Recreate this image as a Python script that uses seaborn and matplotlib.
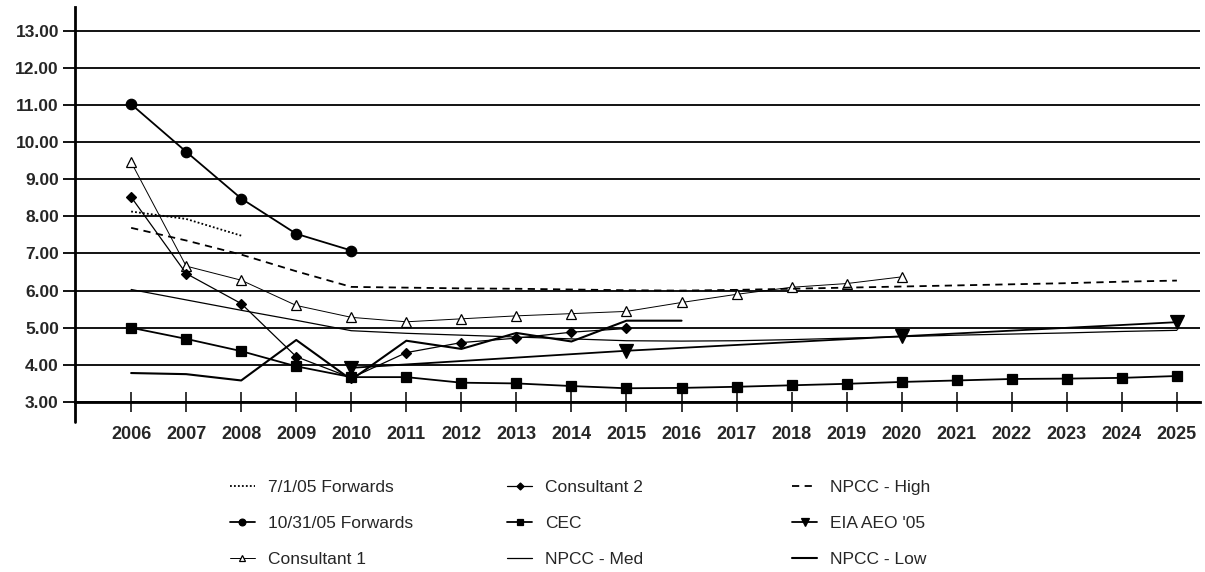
import numpy as np
import pandas as pd
import matplotlib
matplotlib.use("Agg")
import matplotlib.pyplot as plt
import seaborn as sns

# ---------------- data ----------------
years = list(range(2006, 2026))

fwd_0701_years = [2006, 2007, 2008]
fwd_0701 = [8.13, 7.93, 7.48]

fwd_1031_years = [2006, 2007, 2008, 2009, 2010]
fwd_1031 = [11.02, 9.74, 8.48, 7.53, 7.08]

consultant1_years = list(range(2006, 2021))
consultant1 = [9.46, 6.66, 6.28, 5.60, 5.28, 5.16, 5.24, 5.32, 5.38, 5.44,
               5.68, 5.90, 6.09, 6.19, 6.37]

consultant2_years = list(range(2006, 2016))
consultant2 = [8.52, 6.46, 5.65, 4.22, 3.65, 4.33, 4.60, 4.72, 4.88, 4.98]

cec = [5.00, 4.70, 4.37, 3.96, 3.67, 3.67, 3.52, 3.50, 3.43, 3.37,
       3.38, 3.41, 3.45, 3.49, 3.54, 3.58, 3.62, 3.63, 3.65, 3.70]

npcc_high = [7.69, 7.35, 6.97, 6.52, 6.10, 6.08, 6.06, 6.05, 6.03, 6.01,
             6.00, 6.02, 6.05, 6.08, 6.11, 6.14, 6.17, 6.20, 6.24, 6.27]

eia_years = [2010, 2015, 2020, 2025]
eia = [3.92, 4.38, 4.77, 5.15]

npcc_med = [6.03, 5.75, 5.47, 5.20, 4.92, 4.85, 4.80, 4.75, 4.70, 4.65,
            4.64, 4.65, 4.68, 4.72, 4.76, 4.80, 4.83, 4.86, 4.90, 4.93]

npcc_low_years = list(range(2006, 2017))
npcc_low = [3.78, 3.75, 3.58, 4.67, 3.60, 4.65, 4.43, 4.86, 4.63, 5.19, 5.19]

y_ticks = [3, 4, 5, 6, 7, 8, 9, 10, 11, 12, 13]

# ---------------- style ----------------
sns.set_style("white")
plt.rcParams['font.family'] = ['Liberation Sans', 'DejaVu Sans']

W, H = 1205, 572
fig = plt.figure(figsize=(W / 100, H / 100), dpi=100)
ax_left, ax_right, ax_top, ax_bottom = 75, 1200, 7.3, 402
ax = fig.add_axes([ax_left / W, 1 - ax_bottom / H,
                   (ax_right - ax_left) / W, (ax_bottom - ax_top) / H])

K = 'black'
series = [
    dict(x=fwd_0701_years, y=fwd_0701, label='7/1/05 Forwards', ls=(0, (1.0, 1.2)), lw=1.3, marker=None),
    dict(x=fwd_1031_years, y=fwd_1031, label='10/31/05 Forwards', ls='-', lw=1.3, marker='o', ms=7.5, mfc=K),
    dict(x=consultant1_years, y=consultant1, label='Consultant 1', ls='-', lw=0.7, marker='^', ms=7, mfc='white'),
    dict(x=consultant2_years, y=consultant2, label='Consultant 2', ls='-', lw=0.9, marker='D', ms=5.5, mfc=K),
    dict(x=years, y=cec, label='CEC', ls='-', lw=1.3, marker='s', ms=6.5, mfc=K),
    dict(x=years, y=npcc_med, label='NPCC - Med', ls='-', lw=0.9, marker=None),
    dict(x=years, y=npcc_high, label='NPCC - High', ls=(0, (4, 3)), lw=1.3, marker=None),
    dict(x=eia_years, y=eia, label="EIA AEO '05", ls='-', lw=1.3, marker='v', ms=9.5, mfc=K),
    dict(x=npcc_low_years, y=npcc_low, label='NPCC - Low', ls='-', lw=1.5, marker=None),
]

handles = []
for s in series:
    kw = dict(color=K, linestyle=s['ls'], linewidth=s['lw'])
    if s['marker'] is not None:
        kw.update(marker=s['marker'], markersize=s['ms'],
                  markerfacecolor=s['mfc'], markeredgecolor=K, markeredgewidth=0.9)
    sns.lineplot(x=s['x'], y=s['y'], ax=ax, label=s['label'], errorbar=None, **kw)
    handles.append(ax.get_lines()[-1])

if ax.get_legend():
    ax.get_legend().remove()

# axes
ax.set_xlim(2004.98, 2025.42)
ax.set_ylim(3.0, 13.63)
ax.set_xticks(years)
ax.set_xticklabels([str(y) for y in years])
ax.set_yticks(y_ticks)
ax.set_yticklabels([f"{v:.2f}" for v in y_ticks])
ax.set_xlabel('')
ax.set_ylabel('')

ax.yaxis.grid(True, color=K, linewidth=1.3)
ax.xaxis.grid(False)
ax.set_axisbelow(True)

for side in ['top', 'right']:
    ax.spines[side].set_visible(False)
for side in ['left', 'bottom']:
    ax.spines[side].set_color(K)
    ax.spines[side].set_linewidth(2.0)
    ax.spines[side].set_zorder(5)
# y axis line extends below the x axis
ax.plot([0, 0], [-0.05, 0], transform=ax.transAxes, color=K, lw=2.0, clip_on=False, zorder=5)

ax.tick_params(axis='y', direction='out', length=8.6, width=1.3, pad=3,
               labelsize=12.5, color=K, left=True)
ax.tick_params(axis='x', direction='inout', length=14, width=1.1, pad=10,
               labelsize=13, color=K, bottom=True)
for lab in ax.get_xticklabels() + ax.get_yticklabels():
    lab.set_fontweight('bold')

# legend: three columns placed individually
col_text_x = [268, 545, 830]
top_y = 480
fs = 12.5
for i in range(3):
    hs = handles[3 * i: 3 * i + 3]
    handle_len_px = 25
    pad_px = 13
    em_px = fs * 100 / 72
    x0 = col_text_x[i] - handle_len_px - pad_px
    fig.legend(handles=hs, labels=[h.get_label() for h in hs],
               loc='upper left', bbox_to_anchor=(x0 / W, 1 - top_y / H),
               frameon=False, borderpad=0, borderaxespad=0,
               handlelength=handle_len_px / em_px, handletextpad=pad_px / em_px,
               labelspacing=1.2, fontsize=fs, markerscale=0.65, ncol=1)

fig.savefig('out.png', dpi=100)
